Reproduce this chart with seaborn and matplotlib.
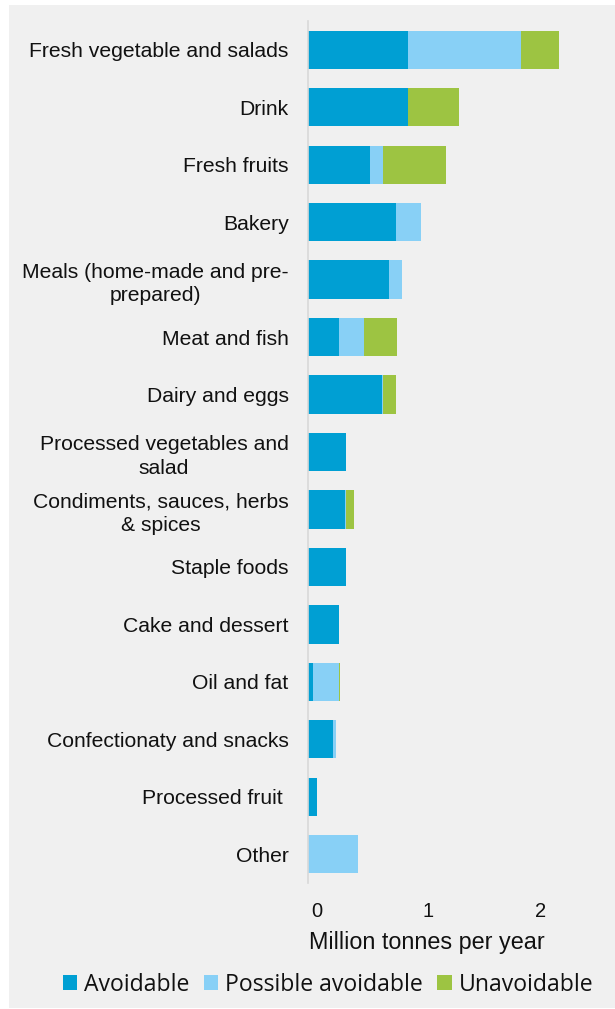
import numpy as np
import pandas as pd
import matplotlib
matplotlib.use("Agg")
import matplotlib.pyplot as plt
import matplotlib.transforms as mtransforms
from matplotlib.patches import Patch, Rectangle
import seaborn as sns

# Household food waste by category (million tonnes per year)
categories = [
    "Fresh vegetable and salads",
    "Drink",
    "Fresh fruits",
    "Bakery",
    "Meals (home-made and pre-\nprepared)",
    "Meat and fish",
    "Dairy and eggs",
    "Processed vegetables and\nsalad",
    "Condiments, sauces, herbs\n& spices",
    "Staple foods",
    "Cake and dessert",
    "Oil and fat",
    "Confectionaty and snacks",
    "Processed fruit ",
    "Other",
]
avoidable = [0.90, 0.90, 0.56, 0.79, 0.73, 0.28, 0.66, 0.34, 0.33, 0.34, 0.28, 0.045, 0.22, 0.08, 0.0]
possible_avoidable = [1.01, 0.0, 0.11, 0.22, 0.11, 0.22, 0.01, 0.0, 0.01, 0.0, 0.0, 0.23, 0.03, 0.0, 0.45]
unavoidable = [0.34, 0.45, 0.57, 0.0, 0.0, 0.30, 0.12, 0.0, 0.07, 0.0, 0.0, 0.015, 0.0, 0.0, 0.0]

series_names = ["Avoidable", "Possible avoidable", "Unavoidable"]
x_ticks = [0, 1, 2]
x_label = "Million tonnes per year"

colors = ["#009fd3", "#88d0f6", "#9dc442"]
panel_bg = "#f0f0f0"

sns.set_theme(style="white")
plt.rcParams["font.family"] = ["Liberation Sans", "DejaVu Sans"]

df = pd.DataFrame({
    "category": categories,
    "a": avoidable,
    "p": possible_avoidable,
    "u": unavoidable,
})
df["cum_a"] = df["a"]
df["cum_ap"] = df["a"] + df["p"]
df["cum_apu"] = df["a"] + df["p"] + df["u"]

fig = plt.figure(figsize=(6.15, 10.09), dpi=100, facecolor="white")

# light grey panel behind the whole chart
fig.patches.append(Rectangle((8.5 / 615, 1.0 / 1009), 1 - 8.5 / 615, 1 - 6.0 / 1009,
                             transform=fig.transFigure, facecolor=panel_bg,
                             edgecolor="none", zorder=-10))

ax = fig.add_axes([308 / 615, 126 / 1009, 290 / 615, 862 / 1009])
ax.set_facecolor("none")
ax.set_zorder(1)

# stacked bars drawn as cumulative layers, back to front
for col, color in zip(["cum_apu", "cum_ap", "cum_a"], colors[::-1]):
    sns.barplot(data=df, x=col, y="category", orient="h", color=color,
                width=0.667, linewidth=0, saturation=1, ax=ax, order=categories)

ax.set_xlim(0, 2.6)
ax.set_ylim(len(categories) - 0.5, -0.5)

ax.set_xticks(x_ticks)
ax.set_xticklabels([str(t) for t in x_ticks], fontsize=14.5, color="#111111")
ax.tick_params(axis="x", length=0, pad=14)
# value labels sit a little to the right of their tick positions
offset = mtransforms.ScaledTranslation(9 / 100, 0, fig.dpi_scale_trans)
for tick in ax.xaxis.get_major_ticks():
    tick.label1.set_transform(tick.label1.get_transform() + offset)

ax.set_yticks(range(len(categories)))
ax.set_yticklabels(categories, fontsize=15.2, color="#111111", linespacing=1.3)
for lbl in ax.get_yticklabels():
    lbl.set_multialignment("center")
ax.tick_params(axis="y", length=0, pad=14)

ax.set_ylabel("")
ax.set_xlabel(x_label, fontsize=16.8, color="#111111")
ax.xaxis.label.set_va("center")
ax.xaxis.set_label_coords((426.5 - 308) / 290, (883 - 943) / 862)

for side in ["top", "right", "bottom"]:
    ax.spines[side].set_visible(False)
ax.spines["left"].set_color("#d9d9d9")
ax.spines["left"].set_linewidth(1.2)
ax.grid(False)

handles = [Patch(facecolor=c, edgecolor="none", label=n) for c, n in zip(colors, series_names)]
fig.legend(handles=handles, loc="center", bbox_to_anchor=(328 / 615, 1 - 984.7 / 1009),
           ncol=3, frameon=False, handlelength=0.63, handleheight=0.63,
           handletextpad=0.3, columnspacing=0.62, labelcolor="#111111",
           prop={"family": "Open Sans", "size": 16.6})

fig.savefig("out.png", dpi=100, facecolor="white")
